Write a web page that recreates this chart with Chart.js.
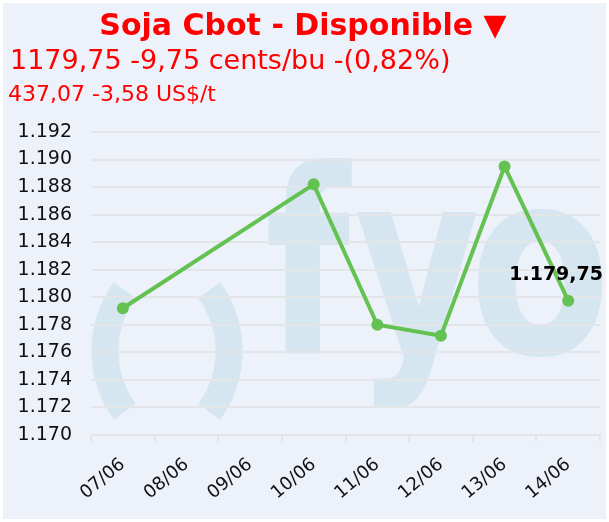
<!DOCTYPE html>
<html>
<head>
<meta charset="utf-8">
<script src="https://cdn.jsdelivr.net/npm/chart.js@4.4.1/dist/chart.umd.min.js"></script>
<style>
  body { margin: 0; background: #fff; }
  #wrap { position: relative; width: 609px; height: 522px; }
  .hdr { position: absolute; font-family: "DejaVu Sans", sans-serif; color: #ff0000; line-height: 1; white-space: nowrap; }
  #title { top: 10px; left: 0; width: 606px; text-align: center; font-size: 30px; font-weight: bold; }
  #sub1 { top: 46px; left: 10px; font-size: 27px; }
  #sub2 { top: 83px; left: 8px; font-size: 22px; }
</style>
</head>
<body>
<div id="wrap">
  <canvas id="chart" width="609" height="522"></canvas>
  <div class="hdr" id="title">Soja Cbot - Disponible ▼</div>
  <div class="hdr" id="sub1">1179,75 -9,75 cents/bu -(0,82%)</div>
  <div class="hdr" id="sub2">437,07 -3,58 US$/t</div>
</div>
<script>
const labels = ["07/06", "08/06", "09/06", "10/06", "11/06", "12/06", "13/06", "14/06"];
const prices = [1179.2, null, null, 1188.2, 1178.0, 1177.2, 1189.5, 1179.75];
const yTicks = [1170, 1172, 1174, 1176, 1178, 1180, 1182, 1184, 1186, 1188, 1190, 1192];

const GREEN = "#63c251";
const GRID = "#e3e5e9";

// 1234.5 -> "1.234,50"
function fmt(v, dec) {
  const parts = v.toFixed(dec).split(".");
  const int = parts[0].replace(/\B(?=(\d{3})+(?!\d))/g, ".");
  return parts[1] ? int + "," + parts[1] : int;
}

const backdrop = {
  id: "backdrop",
  beforeDraw(chart) {
    const ctx = chart.ctx;
    ctx.save();
    ctx.fillStyle = "#edf1fa";
    ctx.fillRect(3, 3, chart.width - 6, chart.height - 6);

    // faint "( )fyo" watermark
    ctx.fillStyle = "#d5e6f0";
    ctx.strokeStyle = "#d5e6f0";
    ctx.lineWidth = 27;
    ctx.beginPath();
    ctx.arc(208, 351, 103, Math.PI - 0.63, Math.PI + 0.63);
    ctx.stroke();
    ctx.beginPath();
    ctx.arc(126, 351, 103, -0.63, 0.63);
    ctx.stroke();

    ctx.font = 'bold 256px "DejaVu Sans"';
    ctx.textBaseline = "alphabetic";
    // letter, left edge, width
    [["f", 268, 84], ["y", 357, 120], ["o", 478, 124]].forEach(([ch, left, w]) => {
      const m = ctx.measureText(ch);
      const bw = m.actualBoundingBoxLeft + m.actualBoundingBoxRight;
      ctx.save();
      ctx.translate(left, 353);
      ctx.scale(w / bw, 1);
      ctx.fillText(ch, m.actualBoundingBoxLeft, 0);
      ctx.restore();
    });
    ctx.restore();
  }
};

const lastLabel = {
  id: "lastLabel",
  afterDatasetsDraw(chart) {
    const meta = chart.getDatasetMeta(0);
    const i = prices.length - 1;
    const pt = meta.data[i];
    const ctx = chart.ctx;
    ctx.save();
    ctx.font = 'bold 19px "DejaVu Sans"';
    ctx.fillStyle = "#000";
    ctx.textBaseline = "middle";
    const txt = fmt(prices[i], 2);
    const w = ctx.measureText(txt).width;
    let x = pt.x - w / 2;
    if (x + w > chart.width - 6) x = chart.width - 6 - w;
    ctx.textAlign = "left";
    ctx.fillText(txt, x, pt.y - 26);
    ctx.restore();
  }
};

new Chart(document.getElementById("chart"), {
  type: "line",
  data: {
    labels: labels,
    datasets: [{
      data: prices,
      borderColor: GREEN,
      backgroundColor: GREEN,
      borderWidth: 4,
      pointRadius: 6,
      pointBorderWidth: 0,
      spanGaps: true,
      tension: 0
    }]
  },
  options: {
    responsive: false,
    animation: false,
    layout: { padding: { top: 132, right: 9, left: 0, bottom: 0 } },
    plugins: {
      legend: { display: false },
      tooltip: { enabled: false }
    },
    scales: {
      x: {
        offset: true,
        grid: { display: true, drawOnChartArea: false, offset: true, tickLength: 7, color: GRID, lineWidth: 2 },
        border: { display: true, color: GRID, width: 2 },
        ticks: {
          color: "#111",
          font: { family: "DejaVu Sans", size: 18 },
          minRotation: 40,
          maxRotation: 40,
          padding: 12,
          autoSkip: false
        },
        afterFit(scale) { scale.height = 87; }
      },
      y: {
        min: 1170,
        max: 1192,
        grid: { color: GRID, lineWidth: 2, drawTicks: false },
        border: { display: false },
        ticks: {
          color: "#111",
          font: { family: "DejaVu Sans", size: 19 },
          padding: 19,
          callback: (v) => fmt(v, 0)
        },
        afterBuildTicks(scale) { scale.ticks = yTicks.map(v => ({ value: v })); },
        afterFit(scale) { scale.width = 91; }
      }
    }
  },
  plugins: [backdrop, lastLabel]
});
</script>
</body>
</html>
